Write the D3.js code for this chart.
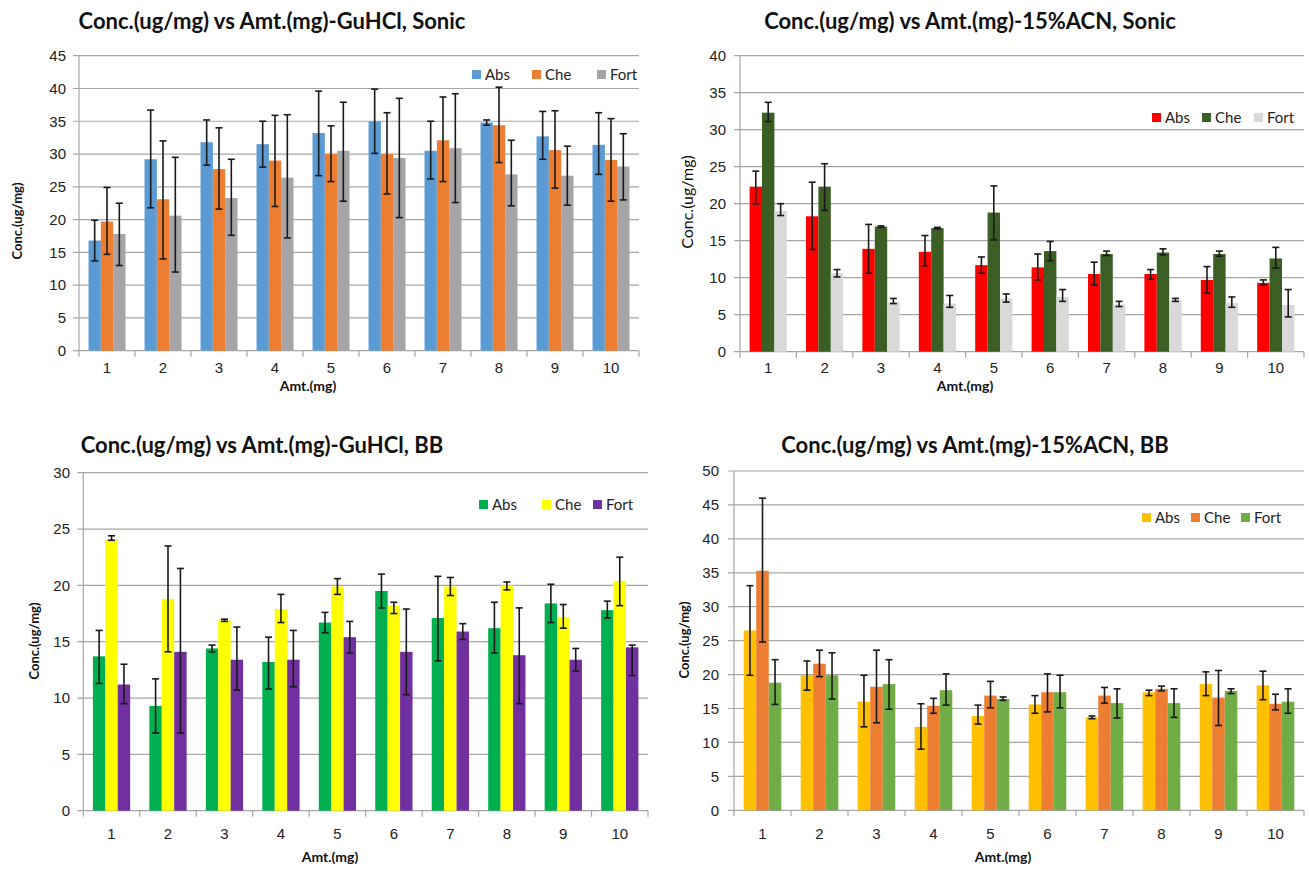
<!doctype html>
<html lang="en">
<head>
<meta charset="UTF-8" />
<title>Conc. vs Amt. panels</title>
<script src="https://cdn.jsdelivr.net/npm/d3@7"></script>
<style>
  body { margin: 0; background: #fff; }
  svg { display: block; font-family: Lato, "Open Sans", sans-serif; }
</style>
</head>
<body>
<div id="chart"></div>
<script>
// categories and series
const amounts = [1, 2, 3, 4, 5, 6, 7, 8, 9, 10];
const seriesNames = ["Abs", "Che", "Fort"];

// GuHCl, Sonic
const guSonicAbs    = [16.8, 29.2, 31.8, 31.5, 33.2, 35.0, 30.5, 34.8, 32.7, 31.4];
const guSonicAbsLo  = [13.7, 21.8, 28.3, 28.0, 26.7, 30.1, 26.2, 34.4, 29.2, 26.9];
const guSonicAbsHi  = [19.9, 36.7, 35.2, 35.0, 39.6, 39.9, 35.0, 35.2, 36.5, 36.3];
const guSonicChe    = [19.7, 23.1, 27.7, 29.0, 30.0, 30.0, 32.1, 34.4, 30.6, 29.1];
const guSonicCheLo  = [14.7, 14.0, 21.6, 22.0, 25.8, 23.9, 25.8, 28.7, 24.8, 22.8];
const guSonicCheHi  = [24.9, 32.0, 34.0, 35.9, 34.3, 36.3, 38.7, 40.2, 36.6, 35.4];
const guSonicFort   = [17.8, 20.6, 23.3, 26.4, 30.5, 29.4, 30.9, 26.9, 26.7, 28.1];
const guSonicFortLo = [13.0, 12.0, 17.6, 17.2, 22.8, 20.3, 22.6, 22.1, 22.2, 23.0];
const guSonicFortHi = [22.5, 29.5, 29.2, 36.0, 37.9, 38.5, 39.2, 32.1, 31.2, 33.1];

// 15%ACN, Sonic
const acnSonicAbs    = [22.3, 18.3, 13.9, 13.5, 11.7, 11.4, 10.5, 10.5, 9.7, 9.3];
const acnSonicAbsLo  = [20.0, 13.8, 10.6, 11.6, 10.6, 9.7, 9.0, 9.8, 7.9, 9.0];
const acnSonicAbsHi  = [24.4, 22.9, 17.2, 15.7, 12.8, 13.2, 12.1, 11.1, 11.5, 9.7];
const acnSonicChe    = [32.3, 22.3, 16.9, 16.7, 18.8, 13.6, 13.2, 13.4, 13.2, 12.6];
const acnSonicCheLo  = [31.1, 19.1, 16.8, 16.6, 15.1, 12.3, 13.0, 13.1, 12.9, 11.3];
const acnSonicCheHi  = [33.7, 25.4, 17.0, 16.8, 22.4, 14.9, 13.6, 13.9, 13.6, 14.1];
const acnSonicFort   = [19.0, 10.6, 6.7, 6.5, 7.2, 7.4, 6.4, 7.0, 6.6, 6.3];
const acnSonicFortLo = [18.4, 10.1, 6.5, 6.0, 6.7, 6.8, 6.1, 6.8, 6.0, 4.7];
const acnSonicFortHi = [20.0, 11.1, 7.2, 7.6, 7.8, 8.4, 6.8, 7.2, 7.4, 8.4];

// GuHCl, BB
const guBBAbs    = [13.7, 9.3, 14.4, 13.2, 16.7, 19.5, 17.1, 16.2, 18.4, 17.8];
const guBBAbsLo  = [11.3, 6.9, 14.1, 10.8, 15.8, 18.0, 13.3, 14.0, 16.7, 17.1];
const guBBAbsHi  = [16.0, 11.7, 14.7, 15.4, 17.6, 21.0, 20.8, 18.5, 20.1, 18.6];
const guBBChe    = [24.1, 18.8, 16.9, 17.9, 19.9, 18.2, 19.9, 20.0, 17.2, 20.4];
const guBBCheLo  = [24.0, 14.1, 16.8, 16.7, 19.2, 17.5, 19.1, 19.6, 16.2, 18.2];
const guBBCheHi  = [24.4, 23.5, 17.0, 19.2, 20.6, 18.5, 20.7, 20.3, 18.3, 22.5];
const guBBFort   = [11.2, 14.1, 13.4, 13.4, 15.4, 14.1, 15.9, 13.8, 13.4, 14.5];
const guBBFortLo = [9.5, 6.9, 10.7, 11.0, 14.0, 10.3, 15.2, 9.5, 12.4, 12.0];
const guBBFortHi = [13.0, 21.5, 16.3, 16.0, 16.8, 17.9, 16.6, 18.0, 14.4, 14.7];

// 15%ACN, BB
const acnBBAbs    = [26.5, 19.9, 16.0, 12.3, 13.9, 15.6, 13.7, 17.4, 18.6, 18.4];
const acnBBAbsLo  = [19.9, 17.7, 12.3, 9.0, 12.7, 14.3, 13.5, 16.9, 16.9, 16.3];
const acnBBAbsHi  = [33.1, 22.0, 19.9, 15.7, 15.5, 16.9, 13.9, 17.7, 20.4, 20.5];
const acnBBChe    = [35.3, 21.6, 18.2, 15.4, 16.9, 17.4, 16.9, 17.9, 16.6, 15.7];
const acnBBCheLo  = [24.8, 19.7, 12.9, 14.3, 15.1, 14.5, 15.8, 17.6, 12.5, 14.8];
const acnBBCheHi  = [46.0, 23.6, 23.6, 16.5, 19.0, 20.1, 18.1, 18.3, 20.6, 17.1];
const acnBBFort   = [18.8, 19.9, 18.6, 17.7, 16.4, 17.4, 15.8, 15.8, 17.6, 16.0];
const acnBBFortLo = [15.6, 16.4, 14.9, 15.5, 16.2, 15.1, 13.6, 13.7, 17.2, 14.3];
const acnBBFortHi = [22.2, 23.2, 22.2, 20.1, 16.7, 19.9, 17.9, 17.9, 17.9, 17.9];

const width = 1309, height = 870;
const svg = d3.select("#chart").append("svg")
  .attr("width", width).attr("height", height);

const gridColor = "#a6a6a6";

function drawPanel(p) {
  const g = svg.append("g");

  const x0 = d3.scaleBand().domain(amounts).range([p.left, p.right]);
  const bw = x0.bandwidth();
  const x1 = d3.scaleBand().domain(seriesNames).range([bw * 0.17, bw * 0.83]);
  const y = d3.scaleLinear().domain([0, p.yMax]).range([p.bottom, p.top]);
  const ticks = d3.range(0, p.yMax + 0.01, 5);

  // grid
  g.selectAll(".grid").data(ticks).enter().append("line")
    .attr("x1", p.left - 6).attr("x2", p.right)
    .attr("y1", d => y(d)).attr("y2", d => y(d))
    .attr("stroke", gridColor).attr("stroke-width", 1.2);

  // y axis (labels only, lines drawn above)
  const yAxis = d3.axisLeft(y).tickValues(ticks).tickSize(0).tickPadding(p.left - p.yLabelRight);
  g.append("g").attr("transform", `translate(${p.left},0)`).call(yAxis)
    .call(a => a.select(".domain").remove())
    .call(a => a.selectAll("text").attr("font-size", 15).attr("fill", "#222"));

  g.append("line")
    .attr("x1", p.left).attr("x2", p.left)
    .attr("y1", p.top).attr("y2", p.bottom)
    .attr("stroke", gridColor).attr("stroke-width", 1.2);

  // x tick marks at category boundaries
  const bounds = amounts.map(a => x0(a)).concat([p.right]);
  g.selectAll(".xt").data(bounds).enter().append("line")
    .attr("x1", d => d).attr("x2", d => d)
    .attr("y1", p.bottom).attr("y2", p.bottom + 6)
    .attr("stroke", gridColor).attr("stroke-width", 1.2);

  const xAxis = d3.axisBottom(x0).tickSize(0).tickPadding(p.xLabelY - p.bottom);
  g.append("g").attr("transform", `translate(0,${p.bottom})`).call(xAxis)
    .call(a => a.select(".domain").remove())
    .call(a => a.selectAll("text").attr("font-size", 15).attr("fill", "#222"));

  // bars
  const rows = [];
  p.series.forEach((s, si) => {
    amounts.forEach((a, i) => {
      rows.push({ a, name: seriesNames[si], v: s.v[i], lo: s.lo[i], hi: s.hi[i], color: p.colors[si] });
    });
  });

  g.selectAll(".bar").data(rows).enter().append("rect")
    .attr("x", d => x0(d.a) + x1(d.name))
    .attr("width", x1.bandwidth())
    .attr("y", d => y(d.v))
    .attr("height", d => y(0) - y(d.v))
    .attr("fill", d => d.color);

  // error bars
  const cap = 3.5;
  const eb = g.selectAll(".err").data(rows).enter().append("g")
    .attr("transform", d => `translate(${x0(d.a) + x1(d.name) + x1.bandwidth() / 2},0)`)
    .attr("stroke", "#1a1a1a").attr("stroke-width", 1.6);
  eb.append("line").attr("y1", d => y(d.lo)).attr("y2", d => y(d.hi));
  eb.append("line").attr("x1", -cap).attr("x2", cap).attr("y1", d => y(d.lo)).attr("y2", d => y(d.lo));
  eb.append("line").attr("x1", -cap).attr("x2", cap).attr("y1", d => y(d.hi)).attr("y2", d => y(d.hi));

  // title
  g.append("text").text(p.title)
    .attr("x", p.titleX).attr("y", p.titleY)
    .attr("text-anchor", "middle")
    .attr("font-size", 22).attr("font-weight", "bold").attr("fill", "#111");

  // axis titles
  g.append("text").text("Amt.(mg)")
    .attr("x", p.xTitleX).attr("y", p.xTitleY)
    .attr("text-anchor", "middle")
    .attr("font-size", 14).attr("font-weight", "bold").attr("fill", "#111");

  g.append("text").text("Conc.(ug/mg)")
    .attr("transform", `translate(${p.yTitleX},${p.yTitleY}) rotate(-90)`)
    .attr("text-anchor", "middle")
    .attr("font-size", p.yTitleSize).attr("font-weight", p.yTitleWeight).attr("fill", "#111");

  // legend
  const lg = g.selectAll(".lg").data(seriesNames).enter().append("g")
    .attr("transform", (d, i) => `translate(${p.legendX[i]},${p.legendY})`);
  lg.append("rect").attr("x", 0).attr("y", -5).attr("width", 9).attr("height", 9)
    .attr("fill", (d, i) => p.colors[i]);
  lg.append("text").text(d => d).attr("x", 13).attr("y", 0)
    .attr("dy", "0.35em").attr("font-size", 15).attr("fill", "#222");
}

drawPanel({
  title: "Conc.(ug/mg) vs Amt.(mg)-GuHCl,  Sonic",
  titleX: 272, titleY: 29,
  left: 79, right: 639, top: 55.7, bottom: 350.7, yMax: 45,
  yLabelRight: 66, xLabelY: 362,
  xTitleX: 308, xTitleY: 391,
  yTitleX: 22, yTitleY: 221, yTitleSize: 13, yTitleWeight: "bold",
  colors: ["#5b9bd5", "#ed7d31", "#a5a5a5"],
  legendX: [472, 532, 597], legendY: 75,
  series: [
    { v: guSonicAbs, lo: guSonicAbsLo, hi: guSonicAbsHi },
    { v: guSonicChe, lo: guSonicCheLo, hi: guSonicCheHi },
    { v: guSonicFort, lo: guSonicFortLo, hi: guSonicFortHi }
  ]
});

drawPanel({
  title: "Conc.(ug/mg) vs Amt.(mg)-15%ACN, Sonic",
  titleX: 970, titleY: 29,
  left: 740, right: 1304, top: 55.7, bottom: 351.7, yMax: 40,
  yLabelRight: 726, xLabelY: 362,
  xTitleX: 965, xTitleY: 391,
  yTitleX: 693, yTitleY: 202, yTitleSize: 16, yTitleWeight: "normal",
  colors: ["#ff0000", "#3a5e24", "#d9d9d9"],
  legendX: [1152, 1202, 1254], legendY: 118,
  series: [
    { v: acnSonicAbs, lo: acnSonicAbsLo, hi: acnSonicAbsHi },
    { v: acnSonicChe, lo: acnSonicCheLo, hi: acnSonicCheHi },
    { v: acnSonicFort, lo: acnSonicFortLo, hi: acnSonicFortHi }
  ]
});

drawPanel({
  title: "Conc.(ug/mg) vs Amt.(mg)-GuHCl,  BB",
  titleX: 262, titleY: 453,
  left: 83.3, right: 648, top: 472.7, bottom: 810.7, yMax: 30,
  yLabelRight: 70, xLabelY: 828,
  xTitleX: 330, xTitleY: 862,
  yTitleX: 39, yTitleY: 641, yTitleSize: 13, yTitleWeight: "bold",
  colors: ["#00b050", "#ffff00", "#7030a0"],
  legendX: [479, 542, 593], legendY: 505,
  series: [
    { v: guBBAbs, lo: guBBAbsLo, hi: guBBAbsHi },
    { v: guBBChe, lo: guBBCheLo, hi: guBBCheHi },
    { v: guBBFort, lo: guBBFortLo, hi: guBBFortHi }
  ]
});

drawPanel({
  title: "Conc.(ug/mg) vs Amt.(mg)-15%ACN, BB",
  titleX: 975, titleY: 453,
  left: 734, right: 1304, top: 471, bottom: 810.3, yMax: 50,
  yLabelRight: 719, xLabelY: 828,
  xTitleX: 1003, xTitleY: 862,
  yTitleX: 689, yTitleY: 640, yTitleSize: 13, yTitleWeight: "bold",
  colors: ["#ffc000", "#ed7d31", "#70ad47"],
  legendX: [1142, 1191, 1241], legendY: 518,
  series: [
    { v: acnBBAbs, lo: acnBBAbsLo, hi: acnBBAbsHi },
    { v: acnBBChe, lo: acnBBCheLo, hi: acnBBCheHi },
    { v: acnBBFort, lo: acnBBFortLo, hi: acnBBFortHi }
  ]
});
</script>
</body>
</html>
